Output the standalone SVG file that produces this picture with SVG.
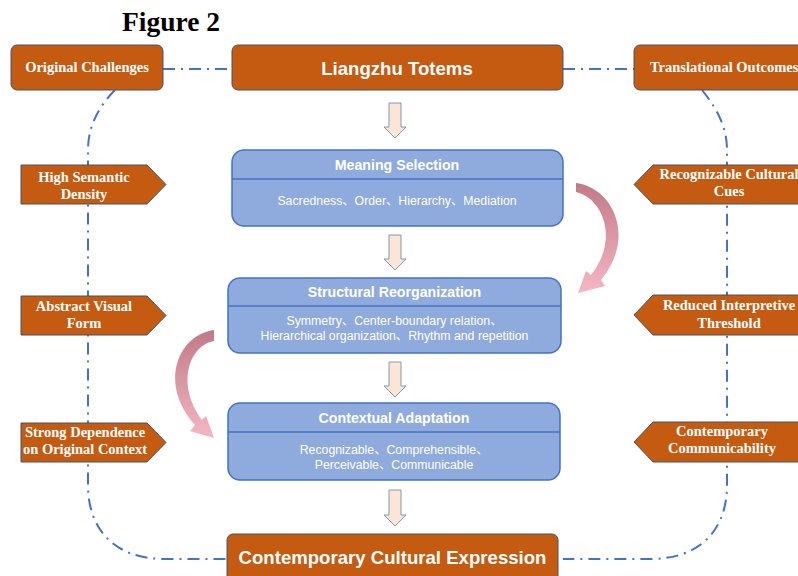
<svg xmlns="http://www.w3.org/2000/svg" width="798" height="576" viewBox="0 0 798 576">
<defs>
<style>
.orange{fill:#C55A11;stroke:#44546A;stroke-width:1}
.blue{fill:#8FAADC;stroke:#4472C4;stroke-width:1.5}
.div{stroke:#4472C4;stroke-width:1.5}
.conn{fill:none;stroke:#4472C4;stroke-width:2;stroke-dasharray:12 6 2 6}
.serif{font-family:"Liberation Serif","Times New Roman",serif;font-weight:bold;font-size:14.5px;fill:#fff;text-anchor:middle}
.big{font-family:"Liberation Sans",Arial,sans-serif;font-weight:bold;font-size:18.6px;fill:#fff;text-anchor:middle}
.ttl{font-family:"Liberation Sans",Arial,sans-serif;font-weight:bold;font-size:14.2px;fill:#fff;text-anchor:middle}
.body{font-family:"Liberation Sans",Arial,"Noto Sans CJK SC",sans-serif;font-size:12.3px;fill:#fff;text-anchor:middle}
.darr{fill:#FBE5D6;stroke:#8497B0;stroke-width:1}
</style>
<linearGradient id="gR" x1="0" y1="183" x2="0" y2="295" gradientUnits="userSpaceOnUse">
<stop offset="0" stop-color="#C07A86"/><stop offset="1" stop-color="#F7B8C6"/>
</linearGradient>
<linearGradient id="gL" x1="0" y1="330" x2="0" y2="442" gradientUnits="userSpaceOnUse">
<stop offset="0" stop-color="#C07A86"/><stop offset="1" stop-color="#F7B8C6"/>
</linearGradient>
</defs>
<rect width="798" height="576" fill="#fff"/>
<text x="122" y="31" font-family="Liberation Serif,'Times New Roman',serif" font-weight="bold" font-size="27.5" fill="#000">Figure 2</text>

<g id="connectors">
<path class="conn" d="M163,69 H232"/>
<path class="conn" d="M563,69 H634"/>
<path class="conn" d="M115,90 C100,105 88,125 88,150 V485 C88,530 115,559 165,559 H228"/>
<path class="conn" d="M702,90 C718,110 727,128 727,150 V485 C727,530 700,559 650,559 H563"/>
<polygon class="darr" points="389,103 401,103 401,127 406,127 395,138 384,127 389,127"/>
<polygon class="darr" points="389,235 401,235 401,259 406,259 395,270 384,259 389,259"/>
<polygon class="darr" points="389,362 401,362 401,386 406,386 395,397 384,386 389,386"/>
<polygon class="darr" points="389,490 401,490 401,515 406,515 395,526 384,515 389,515"/>
<path fill="url(#gR)" d="M576,183 C614,188 636,238 601,280 L605,286 L578,293 L586,271 L591,275 C620,238 602,198 576,192 Z"/>
<path fill="url(#gL)" d="M214,330 C178,335 158,383 195,425 L190,431 L214,438 L206,416 L202,420 C175,383 190,345 214,341 Z"/>
</g>

<g id="original-challenges">
<rect class="orange" x="11" y="45" width="152" height="45" rx="6"/>
<text class="serif" x="87" y="72">Original Challenges</text>
</g>
<g id="liangzhu-totems">
<rect class="orange" x="232" y="45" width="331" height="45" rx="6"/>
<text class="big" x="397" y="75">Liangzhu Totems</text>
</g>
<g id="translational-outcomes">
<rect class="orange" x="634" y="45" width="175" height="45" rx="6"/>
<text class="serif" x="650" y="72" style="text-anchor:start">Translational Outcomes</text>
</g>

<g id="high-semantic-density">
<polygon class="orange" points="21,165 147,165 166,184.5 147,204 21,204"/>
<text class="serif" x="84" y="182">High Semantic</text>
<text class="serif" x="84" y="199">Density</text>
</g>
<g id="abstract-visual-form">
<polygon class="orange" points="21,296 147,296 166,315.5 147,335 21,335"/>
<text class="serif" x="84" y="311">Abstract Visual</text>
<text class="serif" x="84" y="328">Form</text>
</g>
<g id="strong-dependence">
<polygon class="orange" points="21,423 147,423 166,442.5 147,462 21,462"/>
<text class="serif" x="85" y="437">Strong Dependence</text>
<text class="serif" x="85" y="454">on Original Context</text>
</g>

<g id="recognizable-cultural-cues">
<polygon class="orange" points="634,184.5 653,165 810,165 810,204 653,204"/>
<text class="serif" x="729" y="179">Recognizable Cultural</text>
<text class="serif" x="729" y="196">Cues</text>
</g>
<g id="reduced-interpretive-threshold">
<polygon class="orange" points="634,315 653,295 810,295 810,335 653,335"/>
<text class="serif" x="729" y="310">Reduced Interpretive</text>
<text class="serif" x="729" y="328">Threshold</text>
</g>
<g id="contemporary-communicability">
<polygon class="orange" points="634,442 653,422 810,422 810,462 653,462"/>
<text class="serif" x="722" y="436">Contemporary</text>
<text class="serif" x="722" y="453">Communicability</text>
</g>

<g id="meaning-selection">
<rect class="blue" x="232" y="150" width="331" height="76" rx="12"/>
<line class="div" x1="232" y1="179" x2="563" y2="179"/>
<text class="ttl" x="397" y="170">Meaning Selection</text>
<text class="body" x="397" y="205">Sacredness、Order、Hierarchy、Mediation</text>
</g>
<g id="structural-reorganization">
<rect class="blue" x="228" y="278" width="333" height="75" rx="12"/>
<line class="div" x1="228" y1="306" x2="561" y2="306"/>
<text class="ttl" x="394.5" y="297">Structural Reorganization</text>
<text class="body" x="394.5" y="325">Symmetry、Center-boundary relation、</text>
<text class="body" x="394.5" y="340">Hierarchical organization、Rhythm and repetition</text>
</g>
<g id="contextual-adaptation">
<rect class="blue" x="228" y="403" width="332" height="77" rx="12"/>
<line class="div" x1="228" y1="432" x2="560" y2="432"/>
<text class="ttl" x="394" y="423">Contextual Adaptation</text>
<text class="body" x="394" y="454">Recognizable、Comprehensible、</text>
<text class="body" x="394" y="469">Perceivable、Communicable</text>
</g>
<g id="contemporary-cultural-expression">
<rect class="orange" x="227" y="534" width="331" height="60" rx="6"/>
<text class="big" x="392.5" y="564">Contemporary Cultural Expression</text>
</g>
</svg>
